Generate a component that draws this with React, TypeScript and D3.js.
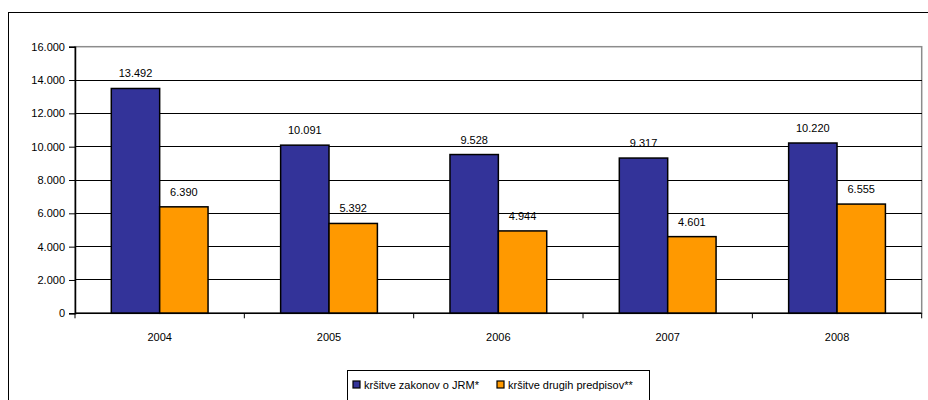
import React, { useEffect, useRef } from 'react';
import * as d3 from 'd3';

const YEARS = ['2004', '2005', '2006', '2007', '2008'];
const ZAKONI_JRM = [13492, 10091, 9528, 9317, 10220];
const DRUGI_PREDPISI = [6390, 5392, 4944, 4601, 6555];
const SERIES_NAMES = ['kršitve zakonov o JRM*', 'kršitve drugih predpisov**'];
const Y_TICKS = [0, 2000, 4000, 6000, 8000, 10000, 12000, 14000, 16000];

const WIDTH = 928;
const HEIGHT = 400;
const PLOT = { left: 75, right: 921.7, top: 46.7, bottom: 313.3 };
const COLORS = ['#333399', '#FF9900'];
const FONT = 'Liberation Sans, Arial, sans-serif';

// Slovenian style thousands separator: 13.492
const fmt = (v: number) => d3.format(',')(v).replace(/,/g, '.');

const App = () => {
  const svgRef = useRef<SVGSVGElement | null>(null);

  useEffect(() => {
    if (!svgRef.current) return;
    const svg = d3.select(svgRef.current);
    svg.selectAll('*').remove();

    const x0 = d3.scaleBand().domain(YEARS).range([PLOT.left, PLOT.right]).paddingInner(0).paddingOuter(0);
    const groupPad = x0.bandwidth() * 0.2143; // gap width 150% of bar
    const x1 = d3.scaleBand()
      .domain(['0', '1'])
      .range([groupPad, x0.bandwidth() - groupPad]);
    const y = d3.scaleLinear().domain([0, 16000]).range([PLOT.bottom, PLOT.top]);

    // outer chart frame (runs past the page edge)
    svg.append('rect')
      .attr('x', 8.5).attr('y', 12.5)
      .attr('width', 940).attr('height', 420)
      .attr('fill', '#fff').attr('stroke', '#000').attr('stroke-width', 1);

    // plot area border
    svg.append('rect')
      .attr('x', PLOT.left).attr('y', PLOT.top)
      .attr('width', PLOT.right - PLOT.left).attr('height', PLOT.bottom - PLOT.top)
      .attr('fill', '#fff').attr('stroke', '#8c8c8c').attr('stroke-width', 1.5);

    // gridlines
    svg.append('g')
      .selectAll('line')
      .data(Y_TICKS.filter(t => t > 0 && t < 16000))
      .enter()
      .append('line')
      .attr('x1', PLOT.left).attr('x2', PLOT.right)
      .attr('y1', d => y(d)).attr('y2', d => y(d))
      .attr('stroke', '#000').attr('stroke-width', 1)
      .attr('shape-rendering', 'crispEdges');

    // bars
    const series = [ZAKONI_JRM, DRUGI_PREDPISI];
    series.forEach((values, si) => {
      const g = svg.append('g');
      g.selectAll('rect')
        .data(values)
        .enter()
        .append('rect')
        .attr('x', (d, i) => (x0(YEARS[i]) || 0) + (x1(String(si)) || 0))
        .attr('y', d => y(d))
        .attr('width', x1.bandwidth())
        .attr('height', d => PLOT.bottom - y(d))
        .attr('fill', COLORS[si])
        .attr('stroke', '#000')
        .attr('stroke-width', 1.5);

      g.selectAll('text')
        .data(values)
        .enter()
        .append('text')
        .attr('x', (d, i) => (x0(YEARS[i]) || 0) + (x1(String(si)) || 0) + x1.bandwidth() / 2)
        .attr('y', d => y(d) - 11)
        .attr('text-anchor', 'middle')
        .attr('font-family', FONT)
        .attr('font-size', '11px')
        .attr('fill', '#000')
        .text(d => fmt(d));
    });

    // y axis
    const yAxis = d3.axisLeft(y).tickValues(Y_TICKS).tickSize(6).tickPadding(4).tickFormat(d => fmt(d as number));
    const ya = svg.append('g').attr('transform', `translate(${PLOT.left},0)`).call(yAxis);
    ya.select('.domain').attr('stroke', '#000').attr('stroke-width', 1.5);
    ya.selectAll('.tick line').attr('stroke', '#000');
    ya.selectAll('.tick text').attr('font-family', FONT).attr('font-size', '11px').attr('fill', '#000');

    // x axis with ticks at category boundaries
    const xa = svg.append('g');
    xa.append('line')
      .attr('x1', PLOT.left).attr('x2', PLOT.right)
      .attr('y1', PLOT.bottom).attr('y2', PLOT.bottom)
      .attr('stroke', '#000').attr('stroke-width', 1.5);
    const bounds = YEARS.map(yr => x0(yr) || 0).concat([PLOT.right]);
    xa.selectAll('.xtick')
      .data(bounds)
      .enter()
      .append('line')
      .attr('x1', d => d).attr('x2', d => d)
      .attr('y1', PLOT.bottom).attr('y2', PLOT.bottom + 5)
      .attr('stroke', '#000');
    xa.selectAll('text')
      .data(YEARS)
      .enter()
      .append('text')
      .attr('x', d => (x0(d) || 0) + x0.bandwidth() / 2)
      .attr('y', 341)
      .attr('text-anchor', 'middle')
      .attr('font-family', FONT)
      .attr('font-size', '11px')
      .attr('fill', '#000')
      .text(d => d);

    // legend
    const lg = svg.append('g');
    lg.append('rect')
      .attr('x', 347.5).attr('y', 370.5)
      .attr('width', 302).attr('height', 40)
      .attr('fill', '#fff').attr('stroke', '#000');
    const items = [
      { name: SERIES_NAMES[0], x: 353 },
      { name: SERIES_NAMES[1], x: 497 },
    ];
    items.forEach((it, i) => {
      lg.append('rect')
        .attr('x', it.x).attr('y', 381)
        .attr('width', 7).attr('height', 7)
        .attr('fill', COLORS[i]).attr('stroke', '#000').attr('stroke-width', 1.2);
      lg.append('text')
        .attr('x', it.x + 11).attr('y', 388.5)
        .attr('font-family', FONT)
        .attr('font-size', '11px')
        .attr('fill', '#000')
        .text(it.name);
    });
  }, []);

  return (
    <div style={{ position: 'absolute', left: 0, top: 0, width: WIDTH, height: HEIGHT, overflow: 'hidden' }}>
      <svg ref={svgRef} width={WIDTH} height={HEIGHT} style={{ display: 'block', background: '#fff' }} />
    </div>
  );
};

export default App;
